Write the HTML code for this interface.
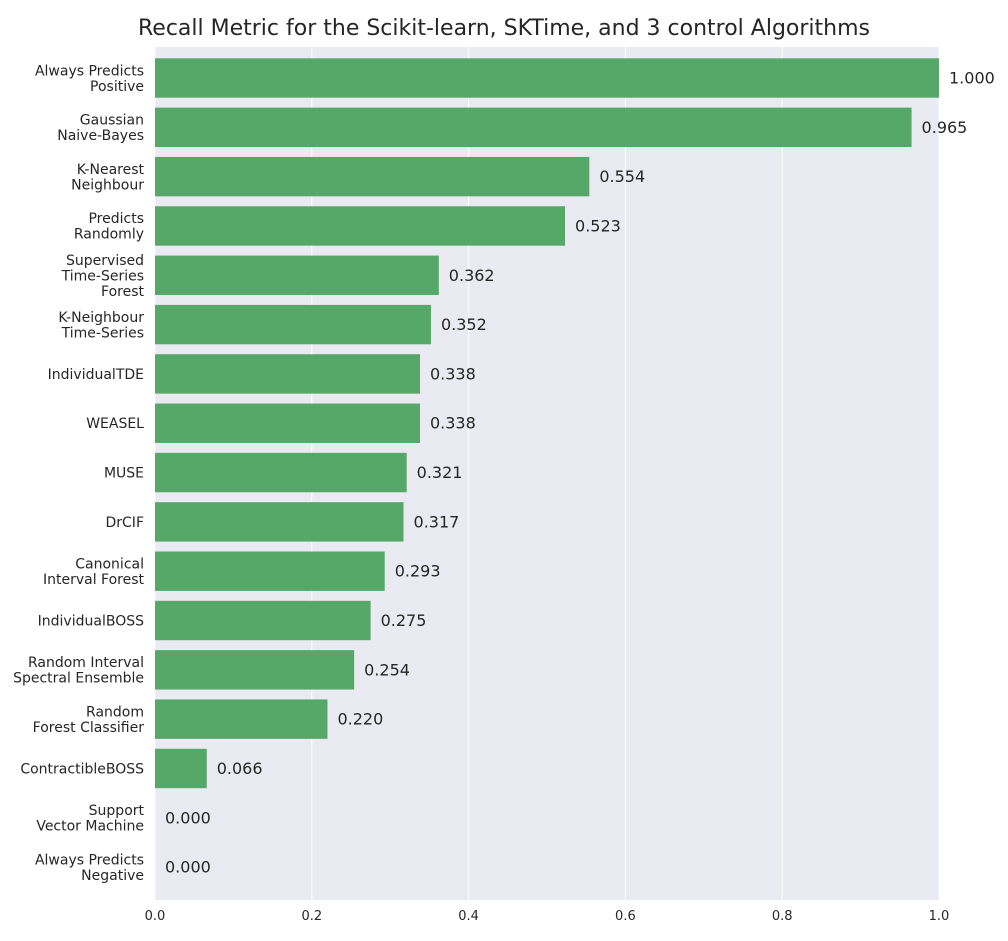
<!DOCTYPE html>
<html><head><meta charset="utf-8"><style>
body{margin:0;background:#fff;font-family:"Liberation Sans","DejaVu Sans",sans-serif}
</style></head><body>
<svg width="1008" height="936" xmlns="http://www.w3.org/2000/svg" font-family="DejaVu Sans, Liberation Sans, sans-serif">
<text x="504" y="35" font-size="22" text-anchor="middle" fill="#262626">Recall Metric for the Scikit-learn, SKTime, and 3 control Algorithms</text>
<rect x="155" y="47" width="784" height="853" fill="#eaeaf2"/>
<g id="grid"></g><g id="bars"></g><g id="labels"></g><g id="ticks"></g>
</svg>
<script>
const categories=[["Always Predicts","Positive"],["Gaussian","Naive-Bayes"],["K-Nearest","Neighbour"],["Predicts","Randomly"],["Supervised","Time-Series","Forest"],["K-Neighbour","Time-Series"],["IndividualTDE"],["WEASEL"],["MUSE"],["DrCIF"],["Canonical","Interval Forest"],["IndividualBOSS"],["Random Interval","Spectral Ensemble"],["Random","Forest Classifier"],["ContractibleBOSS"],["Support","Vector Machine"],["Always Predicts","Negative"]];
const values=[1.000,0.965,0.554,0.523,0.362,0.352,0.338,0.338,0.321,0.317,0.293,0.275,0.254,0.220,0.066,0.000,0.000];
const xTicks=[0,0.2,0.4,0.6,0.8,1.0];
const NS="http://www.w3.org/2000/svg";
const x=v=>155+v*784;
const yc=i=>78+i*49.32;
function mk(t,a,p){const e=document.createElementNS(NS,t);for(const k in a)e.setAttribute(k,a[k]);p.appendChild(e);return e;}
const G=document.getElementById('grid'),B=document.getElementById('bars'),L=document.getElementById('labels'),T=document.getElementById('ticks');
xTicks.forEach(v=>{
 const l=mk('line',{x1:x(v),x2:x(v),y1:47,y2:900,stroke:'#fff','stroke-width':1},G);
 
 
 const t=mk('text',{x:x(v),y:920,'font-size':13,'text-anchor':'middle',fill:'#262626'},T);
 t.textContent=v.toFixed(1);
 
 
});
values.forEach((v,i)=>{
 const r=mk('rect',{x:155,y:yc(i)-19.7,width:x(v)-155,height:39.4,fill:'#55a868'},B);
 
 
 const t=mk('text',{x:x(v)+10,y:yc(i)+5.5,'font-size':16,fill:'#262626'},L);
 t.textContent=v.toFixed(3);
 
 
 const lines=categories[i];
 const t2=mk('text',{'font-size':14,'text-anchor':'end',fill:'#262626'},L);
 
 
 const lh=15.5,y0=yc(i)+5-(lines.length-1)*lh/2;
 lines.forEach((s,j)=>{const ts=mk('tspan',{x:144,y:y0+j*lh},t2);ts.textContent=s;});
});
</script>
</body></html>
